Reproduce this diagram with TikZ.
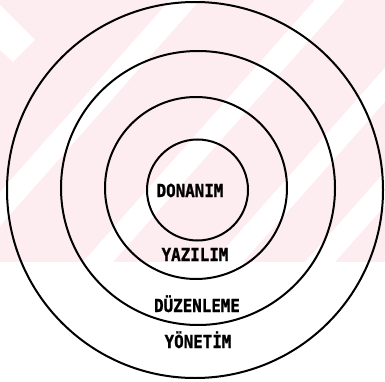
\documentclass[tikz,border=0pt]{standalone}
\usepackage{fontspec}
\newfontfamily\lblfont{DejaVu Sans Mono Bold}[FakeStretch=0.88, FakeBold=1.2]
\usepackage{tikz}
\definecolor{cWmark}{RGB}{253,237,240}
\tikzset{
	ring/.style ={circle, draw=black, line width=2pt, inner sep=0pt},
	lbl/.style  ={font=\lblfont\fontsize{18}{18}\selectfont, inner sep=0pt, anchor=base},
	wmark/.style={fill=white, draw=none},
}

\begin{document}
\begin{tikzpicture}[x=1pt, y=-1pt]
	\useasboundingbox (0,0) rectangle (385,382);
	% faint background stripes
	\fill[cWmark] (0,0) rectangle (385,262);
	\begin{scope}
		\clip (0,0) rectangle (385,262);
		\foreach \c in {185,330,460,552}
			\fill[wmark] (\c-15,0) -- (\c+15,0) -- (\c-217,262) -- (\c-247,262) -- cycle;
		\fill[wmark] (0,5) -- (35,40) -- (13,62) -- (0,50) -- cycle;
	\end{scope}
	% rings
	\node[ring, minimum size=376pt] (yonetim) at (195,190) {};
	\node[ring, minimum size=274pt] (duzenleme) at (198,188) {};
	\node[ring, minimum size=182pt] (yazilim) at (196,188) {};
	\node[ring, minimum size=101pt] (donanim) at (197.5,190) {};
	% labels
	\node[lbl] (tdonanim) at (190,197) {DONANIM};
	\node[lbl] (tyazilim) at (195,261) {YAZILIM};
	\node[lbl] (tduzenleme) at (197,312) {DÜZENLEME};
	\node[lbl] (tyonetim) at (198,348) {YÖNETİM};
\end{tikzpicture}
\end{document}
